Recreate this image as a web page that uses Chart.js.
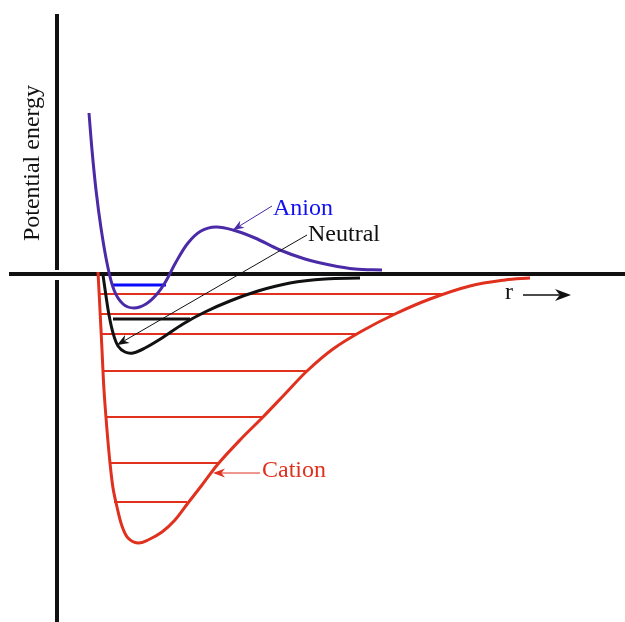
<!DOCTYPE html>
<html>
<head>
<meta charset="utf-8">
<script src="https://cdn.jsdelivr.net/npm/chart.js@4/dist/chart.umd.min.js"></script>
<style>
  html, body { margin: 0; padding: 0; background: #fff; }
  #chart { display: block; }
</style>
</head>
<body>
<canvas id="chart" width="625" height="622"></canvas>
<script>
// Schematic potential energy curves (arbitrary units): r = separation, E = energy
const anionR = [32, 35, 39, 44, 50, 57, 66, 77, 89, 100, 109, 119, 131, 144, 159, 176, 198, 223, 248, 273, 298, 325];
const anionE = [161, 124, 84, 46, 11, -16, -30, -34, -30, -20, -7, 12, 31, 43, 47, 44, 36, 24, 15, 9, 5, 4];

const neutralR = [46, 49, 52, 56, 61, 68, 76, 88, 105, 126, 148, 173, 201, 233, 268, 303];
const neutralE = [-1, -22, -41, -59, -72, -78, -79, -74, -64, -50, -38, -27, -17, -9, -5, -4];

const cationR = [41, 43, 45, 47, 50, 53, 56, 60, 65, 71, 81, 91, 105, 118, 131, 145, 161, 183, 206, 228, 250, 276, 305, 338, 373, 413, 448, 473];
const cationE = [2, -36, -76, -116, -156, -189, -214, -233, -252, -264, -269, -266, -258, -246, -229, -211, -190, -166, -143, -120, -97, -75, -57, -40, -25, -12, -6, -4];

// vibrational levels: energy, left r, right r
const cationLevelE = [-20, -40, -60, -97, -143, -189, -228];
const cationLevelFrom = [43, 43, 44, 46, 49, 52, 57];
const cationLevelTo = [386, 338, 300, 250, 206, 161, 130];

const anionLevel = { e: -11, from: 56, to: 109 };
const neutralLevel = { e: -45, from: 56, to: 133 };

// labels with arrows: text, text position, arrow tail -> head, head size
const labels = [
  { text: 'Anion', r: 216, e: 59, color: '#1010f0', arrow: [215, 68, 176, 44], arrowColor: '#4a2aa6', head: 11 },
  { text: 'Neutral', r: 251, e: 33, color: '#111111', arrow: [250, 39, 60, -71], arrowColor: '#111111', head: 12 },
  { text: 'Cation', r: 205, e: -203, color: '#e0301e', arrow: [203, -199, 156, -199], arrowColor: '#e0301e', head: 12 },
  { text: 'r', r: 448, e: -25, color: '#111111', arrow: [466, -21, 514, -21], arrowColor: '#111111', head: 16 }
];

const RED = '#e0301e';
const PURPLE = '#4a2aa6';
const BLACK = '#111111';

function pts(rs, es) {
  return rs.map(function(r, i) { return { x: r, y: es[i] }; });
}

function seg(r1, e1, r2, e2) {
  return [{ x: r1, y: e1 }, { x: r2, y: e2 }];
}

const datasets = [];

// axes (vertical axis is broken where it meets the r axis)
datasets.push({ data: seg(-48, 0, 568, 0), borderColor: BLACK, borderWidth: 4, order: 20 });
datasets.push({ data: seg(0, 260, 0, 4), borderColor: BLACK, borderWidth: 4, order: 20 });
datasets.push({ data: seg(0, -6, 0, -348), borderColor: BLACK, borderWidth: 4, order: 20 });

cationLevelE.forEach(function(e, i) {
  datasets.push({ data: seg(cationLevelFrom[i], e, cationLevelTo[i], e), borderColor: RED, borderWidth: 2, order: 15 });
});
datasets.push({ data: seg(anionLevel.from, anionLevel.e, anionLevel.to, anionLevel.e), borderColor: '#0a0aff', borderWidth: 3, order: 14 });
datasets.push({ data: seg(neutralLevel.from, neutralLevel.e, neutralLevel.to, neutralLevel.e), borderColor: BLACK, borderWidth: 3, order: 14 });

datasets.push({ data: pts(cationR, cationE), borderColor: RED, borderWidth: 3, tension: 0.35, order: 5 });
datasets.push({ data: pts(neutralR, neutralE), borderColor: BLACK, borderWidth: 3, tension: 0.35, order: 4 });
datasets.push({ data: pts(anionR, anionE), borderColor: PURPLE, borderWidth: 3, tension: 0.35, order: 3 });

// Draw labels, arrows and the axis title on top of the curves
const annotations = {
  id: 'annotations',
  afterDatasetsDraw: function(chart) {
    const ctx = chart.ctx;
    const xs = chart.scales.x;
    const ys = chart.scales.y;
    ctx.save();
    ctx.font = '24px "Liberation Serif", "DejaVu Serif", serif';
    ctx.textBaseline = 'alphabetic';
    labels.forEach(function(l) {
      const x1 = xs.getPixelForValue(l.arrow[0]);
      const y1 = ys.getPixelForValue(l.arrow[1]);
      const x2 = xs.getPixelForValue(l.arrow[2]);
      const y2 = ys.getPixelForValue(l.arrow[3]);
      const ang = Math.atan2(y2 - y1, x2 - x1);
      const len = l.head, half = l.head * 0.38;
      const c = Math.cos(ang), s = Math.sin(ang);
      ctx.strokeStyle = l.arrowColor;
      ctx.fillStyle = l.arrowColor;
      ctx.lineWidth = l.text === 'r' ? 1.3 : 1;
      ctx.beginPath();
      ctx.moveTo(x1, y1);
      ctx.lineTo(x2 - c * len * 0.7, y2 - s * len * 0.7);
      ctx.stroke();
      ctx.beginPath();
      ctx.moveTo(x2, y2);
      ctx.lineTo(x2 - c * len - s * half, y2 - s * len + c * half);
      ctx.lineTo(x2 - c * len * 0.7, y2 - s * len * 0.7);
      ctx.lineTo(x2 - c * len + s * half, y2 - s * len - c * half);
      ctx.closePath();
      ctx.fill();

      ctx.fillStyle = l.color;
      ctx.textAlign = 'left';
      ctx.fillText(l.text, xs.getPixelForValue(l.r), ys.getPixelForValue(l.e));
    });

    // y axis title
    ctx.fillStyle = BLACK;
    ctx.translate(xs.getPixelForValue(-18), ys.getPixelForValue(111));
    ctx.rotate(-Math.PI / 2);
    ctx.textAlign = 'center';
    ctx.fillText('Potential energy', 0, 0);
    ctx.restore();
  }
};

new Chart(document.getElementById('chart').getContext('2d'), {
  type: 'scatter',
  data: { datasets: datasets },
  options: {
    responsive: false,
    animation: false,
    showLine: true,
    layout: { padding: 0 },
    elements: {
      point: { radius: 0, hoverRadius: 0 },
      line: { fill: false, borderCapStyle: 'butt' }
    },
    plugins: {
      legend: { display: false },
      tooltip: { enabled: false }
    },
    scales: {
      x: { type: 'linear', display: false, min: -57, max: 568 },
      y: { type: 'linear', display: false, min: -348, max: 274 }
    }
  },
  plugins: [annotations]
});
</script>
</body>
</html>
